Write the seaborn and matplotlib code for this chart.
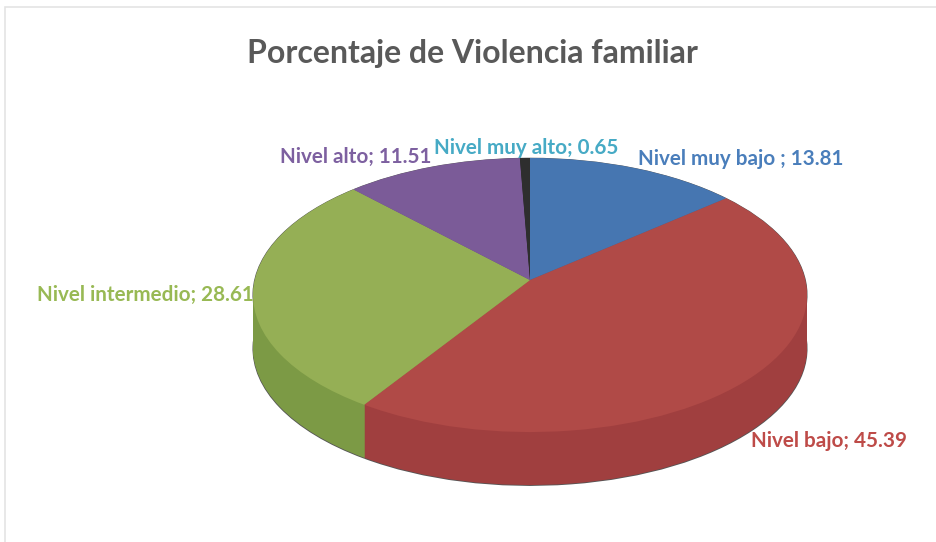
import matplotlib
matplotlib.use("Agg")
import matplotlib.pyplot as plt
from matplotlib.patches import Rectangle
from matplotlib.transforms import Transform
import numpy as np
import seaborn as sns

categorias = ["Nivel muy bajo ", "Nivel bajo", "Nivel intermedio", "Nivel alto", "Nivel muy alto"]
porcentajes = [13.81, 45.39, 28.61, 11.51, 0.65]
titulo = "Porcentaje de Violencia familiar"

W, H = 937, 542
CX, CY = 530, 280      # vertice del pastel en pixeles
R, S, K = 275.3, 135.4, 0.1095  # perspectiva del disco
DEPTH = 53

sns.set_theme(style="white")
plt.rcParams["font.family"] = ["Lato", "DejaVu Sans"]

tapa = sns.color_palette(["#4676B1", "#B04A47", "#95AF55", "#7B5B98", "#2E2E2E"])
lado = sns.color_palette(["#3B6395", "#A03F3F", "#7C9A45", "#67497F", "#222222"])
texto = ["#4A7EBB", "#BE4B48", "#98B954", "#7D60A0", "#46AAC5"]
# posicion de cada etiqueta en pixeles (centro)
pos_etiquetas = [(741, 159), (829, 441), (145, 295), (356, 157), (526, 148)]


class Perspectiva(Transform):
    input_dims = 2
    output_dims = 2

    def __init__(self, dy=0):
        super().__init__()
        self.dy = dy

    def transform_non_affine(self, xy):
        xy = np.asarray(xy)
        d = 1 + K * xy[:, 1]
        return np.column_stack([R * xy[:, 0] / d, S * xy[:, 1] / d - self.dy])


fig = plt.figure(figsize=(W / 100, H / 100), dpi=100, facecolor="white")
ax = fig.add_axes([0, 0, 1, 1])


def pastel(radio, dy, colores):
    wedges, _ = ax.pie(porcentajes, colors=colores, startangle=90, counterclock=False, radius=radio)
    for w in wedges:
        w.set_linewidth(0)
        w.set_transform(Perspectiva(dy) + ax.transData)
    return wedges


# canto del pastel: capas de abajo hacia arriba
pastel(1.002, DEPTH + 0.5, ["#555555"] * 5)
pastel(1.002, 0, ["#555555"] * 5)
for dy in range(DEPTH, 0, -1):
    pastel(1, dy, lado)
pastel(1, 0, tapa)

ax.set_aspect("auto")
ax.set_xlim(-CX, W - CX)
ax.set_ylim(CY - H, CY)
ax.axis("off")

# marco gris claro
fig.add_artist(Rectangle((5 / W, -0.1), 1.1, 1.1 - 7 / H, transform=fig.transFigure,
                         fill=False, edgecolor="#E4E4E4", linewidth=1.2))

fig.text(472 / W, 1 - 54 / H, titulo, ha="center", va="center", fontsize=23,
         fontweight="bold", color="#595959")

for cat, val, (x, y), c in zip(categorias, porcentajes, pos_etiquetas, texto):
    fig.text(x / W, 1 - y / H, f"{cat}; {val}", ha="center", va="center", fontsize=14.9,
             fontweight="bold", color=c)

fig.savefig("out.png", dpi=100)
